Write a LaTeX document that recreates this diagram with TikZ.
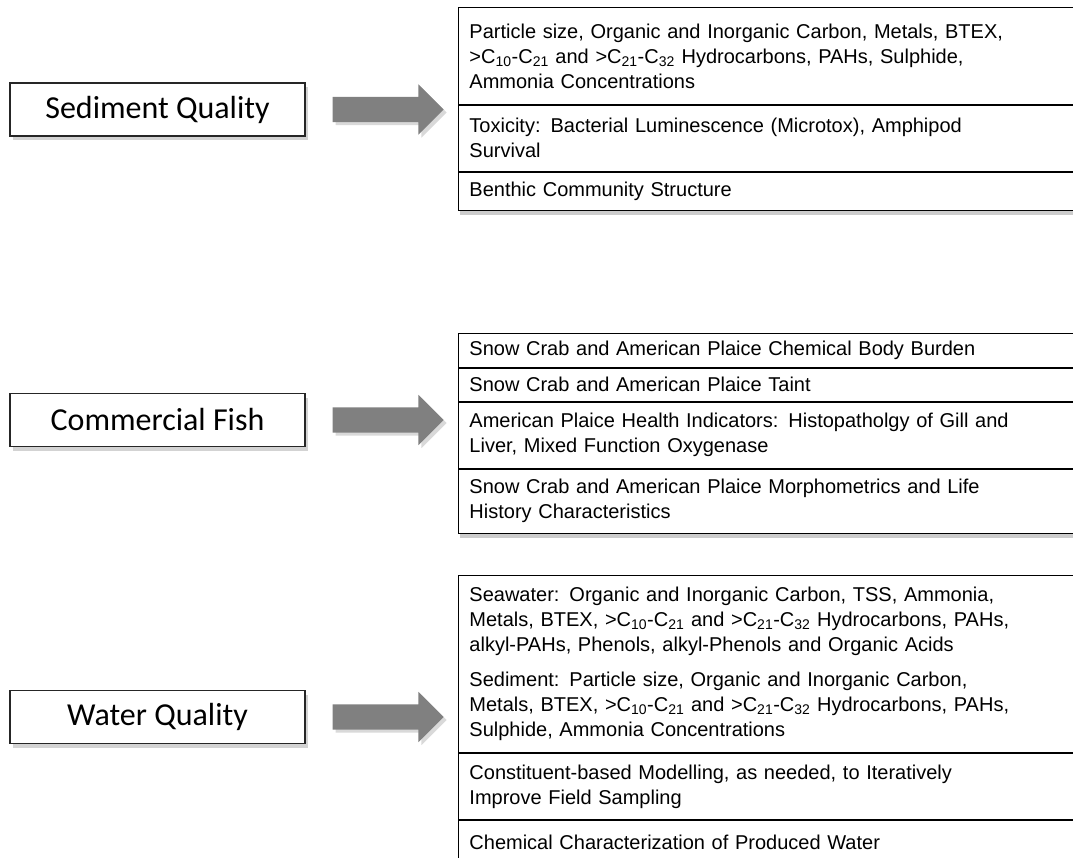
\documentclass[tikz,border=0pt]{standalone}
\usepackage{fontspec}
\setmainfont{Liberation Sans}
\newfontfamily\labelfont{Carlito}
\usetikzlibrary{shapes.arrows,positioning,calc,fit,backgrounds,shadows}
\newcommand{\Cn}[1]{C\textsubscript{#1}}

\begin{document}
\begin{tikzpicture}[
    x=1pt, y=-1pt,
    topic/.style={rectangle, draw=black!85, line width=1.1pt, fill=white, minimum width=295pt, minimum height=53pt, font=\labelfont\fontsize{32}{38}\selectfont, drop shadow={shadow xshift=3pt, shadow yshift=-4pt, opacity=0.35}},
    item/.style={rectangle, draw, line width=0.9pt, minimum width=640pt, text width=618pt, inner xsep=11pt, inner ysep=0pt, align=left, font=\fontsize{20}{25}\selectfont},
    frame/.style={fill=white, inner sep=0pt, drop shadow={shadow xshift=2pt, shadow yshift=-4pt, opacity=0.4}},
    bigarrow/.style={single arrow, fill=black!50, draw=none, minimum height=111pt, inner xsep=0pt, inner ysep=12.5pt, single arrow head extend=12.5pt, drop shadow={shadow xshift=3pt, shadow yshift=-3pt, opacity=0.3}}
]
\useasboundingbox (0,0) rectangle (1073,858);
\clip (0,0) rectangle (1073,858);

% Topics
\node[topic] (sedbox) at (157.5,109.5) {Sediment Quality};
\node[topic] (fishbox) at (157.5,420) {Commercial Fish};
\node[topic] (waterbox) at (157.5,717) {Water Quality};

% Sediment quality list
\node[item, minimum height=97pt, anchor=north west] (sed1) at (458,7) {Particle size, Organic and Inorganic Carbon, Metals, BTEX,\\ >\Cn{10}-\Cn{21} and >\Cn{21}-\Cn{32} Hydrocarbons, PAHs, Sulphide,\\ Ammonia Concentrations};
\node[item, minimum height=66pt, below=0pt of sed1] (sed2) {Toxicity: Bacterial Luminescence (Microtox), Amphipod\\ Survival};
\node[item, minimum height=38pt, below=0pt of sed2] (sed3) {Benthic Community Structure};

% Commercial fish list
\node[item, minimum height=34pt, anchor=north west] (fish1) at (458,333) {Snow Crab and American Plaice Chemical Body Burden};
\node[item, minimum height=33pt, below=0pt of fish1] (fish2) {Snow Crab and American Plaice Taint};
\node[item, minimum height=66pt, below=0pt of fish2] (fish3) {American Plaice Health Indicators: Histopatholgy of Gill and\\ Liver, Mixed Function Oxygenase};
\node[item, minimum height=64pt, below=0pt of fish3] (fish4) {Snow Crab and American Plaice Morphometrics and Life\\ History Characteristics};

% Water quality list
\node[item, minimum height=177pt, anchor=north west] (water1) at (458,575) {Seawater: Organic and Inorganic Carbon, TSS, Ammonia,\\ Metals, BTEX, >\Cn{10}-\Cn{21} and >\Cn{21}-\Cn{32} Hydrocarbons, PAHs,\\ alkyl-PAHs, Phenols, alkyl-Phenols and Organic Acids\\[10pt] Sediment: Particle size, Organic and Inorganic Carbon,\\ Metals, BTEX, >\Cn{10}-\Cn{21} and >\Cn{21}-\Cn{32} Hydrocarbons, PAHs,\\ Sulphide, Ammonia Concentrations};
\node[item, minimum height=66pt, below=0pt of water1] (water2) {Constituent-based Modelling, as needed, to Iteratively\\ Improve Field Sampling};
\node[item, minimum height=44pt, below=0pt of water2] (water3) {Chemical Characterization of Produced Water};

% Shadows behind the lists
\begin{scope}[on background layer]
\clip (0,0) rectangle (1073,858);
\node[frame, fit=(sed1)(sed3)] (sedlist) {};
\node[frame, fit=(fish1)(fish4)] (fishlist) {};
\node[frame, fit=(water1)(water3)] (waterlist) {};
\end{scope}

% Arrows
\node[bigarrow] (sedarrow) at ($(sedbox.east)!0.5!(sedbox.east -| sedlist.west)$) {};
\node[bigarrow] (fisharrow) at ($(fishbox.east)!0.5!(fishbox.east -| fishlist.west)$) {};
\node[bigarrow] (waterarrow) at ($(waterbox.east)!0.5!(waterbox.east -| waterlist.west)$) {};

\end{tikzpicture}
\end{document}
